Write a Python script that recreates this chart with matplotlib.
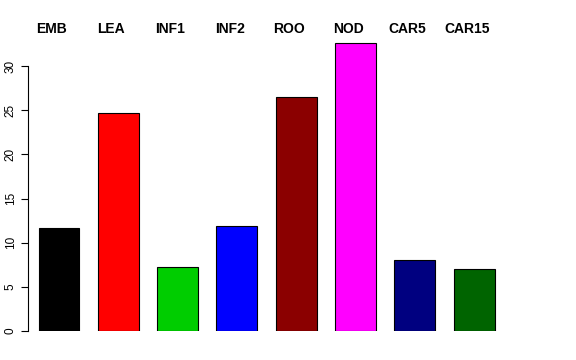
import matplotlib
matplotlib.use("Agg")
import matplotlib.pyplot as plt
import numpy as np

plt.rcParams['font.family'] = ['Liberation Sans', 'DejaVu Sans']

tissues = ["EMB", "LEA", "INF1", "INF2", "ROO", "NOD", "CAR5", "CAR15"]
values = [11.66, 24.68, 7.25, 11.89, 26.49, 32.6, 8.04, 7.02]
colors = ["#000000", "#FF0000", "#00CD00", "#0000FF", "#8B0000", "#FF00FF", "#000080", "#006400"]
yticks = [0, 5, 10, 15, 20, 25, 30]

fig = plt.figure(figsize=(5.76, 3.6), dpi=100, facecolor="white")
ax = fig.add_axes([28 / 576, 1 - 331 / 360, 520 / 576, 34 * 8.833 / 360])

x = np.arange(len(tissues))
ax.bar(x, values, width=0.69, color=colors, edgecolor="black", linewidth=0.8)

ax.set_xlim(-0.523, -0.523 + 520 / 59.3)
ax.set_ylim(0, 34)

for s in ["top", "right", "bottom"]:
    ax.spines[s].set_visible(False)
ax.spines["left"].set_bounds(0, 30)
ax.spines["left"].set_linewidth(0.8)
ax.set_xticks([])
ax.set_yticks(yticks)
ax.set_yticklabels([str(t) for t in yticks], rotation=90, va="center", fontsize=8.5)
ax.tick_params(axis="y", length=5, width=0.8, pad=3)

for xi, lab in zip(x, tissues):
    ax.text(xi - 0.12, 34.2, lab, ha="center", va="center", fontsize=10,
            fontweight="bold", clip_on=False)

fig.savefig("out.png", dpi=100)
